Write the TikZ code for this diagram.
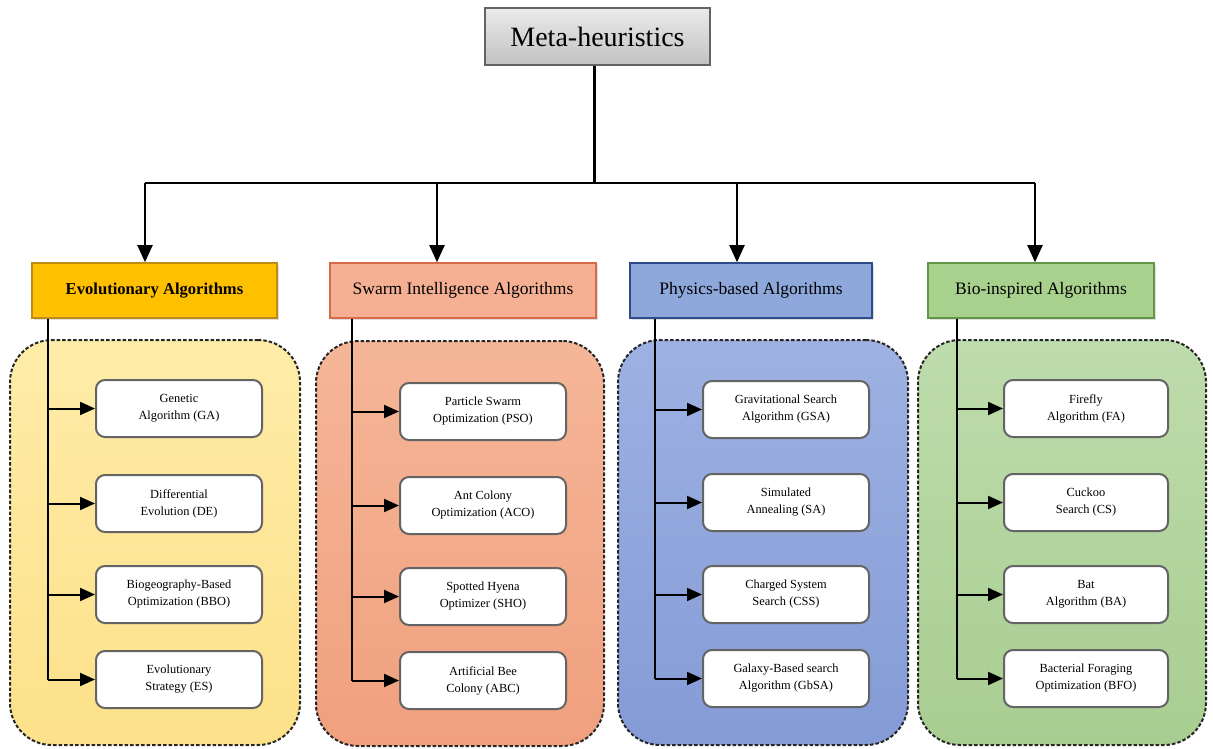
\documentclass[tikz,border=0pt]{standalone}
\usepackage{fontspec}
\setmainfont{Liberation Serif}
\usetikzlibrary{arrows.meta,shadows}

\definecolor{evoFill}{RGB}{255,192,0}
\definecolor{evoLine}{RGB}{190,140,20}
\definecolor{evoTop}{RGB}{254,236,168}
\definecolor{evoBot}{RGB}{253,225,138}
\definecolor{swFill}{RGB}{245,176,148}
\definecolor{swLine}{RGB}{215,105,70}
\definecolor{swTop}{RGB}{245,182,152}
\definecolor{swBot}{RGB}{240,160,126}
\definecolor{phFill}{RGB}{142,168,220}
\definecolor{phLine}{RGB}{45,75,140}
\definecolor{phTop}{RGB}{158,177,226}
\definecolor{phBot}{RGB}{132,155,214}
\definecolor{bioFill}{RGB}{169,209,142}
\definecolor{bioLine}{RGB}{100,150,70}
\definecolor{bioTop}{RGB}{190,220,172}
\definecolor{bioBot}{RGB}{168,205,145}
\definecolor{boxLine}{RGB}{100,100,100}

\tikzset{
  rootbox/.style={draw=boxLine, line width=1.2pt, top color=black!8, bottom color=black!24,
    minimum width=225pt, minimum height=57pt, font=\fontsize{28}{32}\selectfont},
  catbox/.style={line width=1.6pt, minimum height=55pt, font=\fontsize{17.5}{20}\selectfont,
    drop shadow={opacity=0.25, shadow xshift=1.5pt, shadow yshift=-1.5pt}},
  group/.style={draw=black!85, line width=2pt, dash pattern=on 3.5pt off 2pt,
    rounded corners=42pt, minimum width=#1, minimum height=405pt},
  leaf/.style={draw=boxLine, line width=2pt, fill=white, rounded corners=9pt,
    minimum width=166pt, minimum height=57pt, align=center,
    font=\fontsize{12.4}{17}\selectfont},
  trunk/.style={line width=3pt, draw=black},
  link/.style={line width=2pt, draw=black},
  spine/.style={line width=1.6pt, draw=black},
  arr/.style={line width=2pt, draw=black, -{Triangle[length=15pt,width=13pt]}},
  bigarr/.style={line width=2pt, draw=black, -{Triangle[length=17pt,width=15pt]}},
}

\begin{document}
\begin{tikzpicture}[x=1pt,y=-1pt]
\useasboundingbox (0,0) rectangle (1213,749);

% dashed group panels
\node[group=290pt, top color=evoTop, bottom color=evoBot] (gEvo) at (155,542.5) {};
\node[group=288pt, top color=swTop, bottom color=swBot] (gSw) at (460,543.5) {};
\node[group=290pt, top color=phTop, bottom color=phBot] (gPh) at (763,542.5) {};
\node[group=288pt, top color=bioTop, bottom color=bioBot] (gBio) at (1062,542.5) {};

% root
\node[rootbox] (root) at (597.5,36.5) {Meta-heuristics};

% categories
\node[catbox, draw=evoLine, fill=evoFill, minimum width=245pt, font=\fontsize{16.6}{20}\selectfont\bfseries] (evo) at (154.5,290.5) {Evolutionary Algorithms};
\node[catbox, draw=swLine, fill=swFill, minimum width=266pt] (sw) at (463,290.5) {Swarm Intelligence Algorithms};
\node[catbox, draw=phLine, fill=phFill, minimum width=242pt] (ph) at (751,290.5) {Physics-based Algorithms};
\node[catbox, draw=bioLine, fill=bioFill, minimum width=226pt] (bio) at (1041,290.5) {Bio-inspired Algorithms};

% leaves: evolutionary
\node[leaf] (ga)  at (179,408.5) {Genetic\\Algorithm (GA)};
\node[leaf] (de)  at (179,503.5) {Differential\\Evolution (DE)};
\node[leaf] (bbo) at (179,594.5) {Biogeography-Based\\Optimization (BBO)};
\node[leaf] (es)  at (179,679.5) {Evolutionary\\Strategy (ES)};
% leaves: swarm
\node[leaf] (pso) at (483,411.5) {Particle Swarm\\Optimization (PSO)};
\node[leaf] (aco) at (483,505.5) {Ant Colony\\Optimization (ACO)};
\node[leaf] (sho) at (483,596.5) {Spotted Hyena\\Optimizer (SHO)};
\node[leaf] (abc) at (483,680.5) {Artificial Bee\\Colony (ABC)};
% leaves: physics
\node[leaf] (gsa)  at (786,409.5) {Gravitational Search\\Algorithm (GSA)};
\node[leaf] (sa)   at (786,502.5) {Simulated\\Annealing (SA)};
\node[leaf] (css)  at (786,594.5) {Charged System\\Search (CSS)};
\node[leaf] (gbsa) at (786,678.5) {Galaxy-Based search\\Algorithm (GbSA)};
% leaves: bio-inspired
\node[leaf, minimum width=164pt] (fa)  at (1086,408.5) {Firefly\\Algorithm (FA)};
\node[leaf, minimum width=164pt] (cs)  at (1086,502.5) {Cuckoo\\Search (CS)};
\node[leaf, minimum width=164pt] (ba)  at (1086,594.5) {Bat\\Algorithm (BA)};
\node[leaf, minimum width=164pt] (bfo) at (1086,678.5) {Bacterial Foraging\\Optimization (BFO)};

% root to categories
\coordinate (bus) at (594,183);
\coordinate (tEvo) at (145,183);
\coordinate (tSw)  at (437,183);
\coordinate (tPh)  at (737,183);
\coordinate (tBio) at (1035,183);
\draw[trunk] (bus |- root.south) -- (bus);
\draw[link] (tEvo) -- (tBio);
\draw[bigarr] (tEvo) -- (tEvo |- evo.north);
\draw[bigarr] (tSw)  -- (tSw |- sw.north);
\draw[bigarr] (tPh)  -- (tPh |- ph.north);
\draw[bigarr] (tBio) -- (tBio |- bio.north);

% category spines and leaf arrows
\coordinate (xEvo) at (48,0);
\coordinate (xSw)  at (352,0);
\coordinate (xPh)  at (655,0);
\coordinate (xBio) at (957,0);

\draw[spine] (xEvo |- evo.south) -- (xEvo |- es.west);
\foreach \n in {ga,de,bbo,es} \draw[arr] (xEvo |- \n.west) -- (\n.west);
\draw[spine] (xSw |- sw.south) -- (xSw |- abc.west);
\foreach \n in {pso,aco,sho,abc} \draw[arr] (xSw |- \n.west) -- (\n.west);
\draw[spine] (xPh |- ph.south) -- (xPh |- gbsa.west);
\foreach \n in {gsa,sa,css,gbsa} \draw[arr] (xPh |- \n.west) -- (\n.west);
\draw[spine] (xBio |- bio.south) -- (xBio |- bfo.west);
\foreach \n in {fa,cs,ba,bfo} \draw[arr] (xBio |- \n.west) -- (\n.west);
\end{tikzpicture}
\end{document}
